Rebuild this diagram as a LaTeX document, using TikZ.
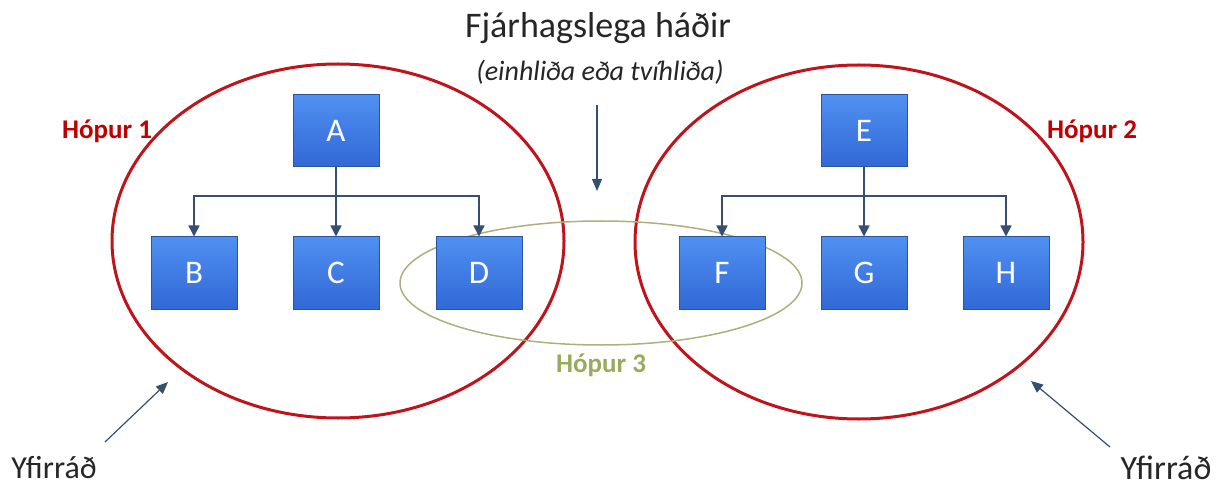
\documentclass[tikz,border=0pt]{standalone}
\usepackage{fontspec}
\setmainfont{Carlito}
\usetikzlibrary{arrows.meta,shapes.geometric}
\definecolor{boxtop}{HTML}{5090F2}
\definecolor{boxbot}{HTML}{3168D6}
\definecolor{boxline}{HTML}{2A5699}
\definecolor{conn}{HTML}{34506E}
\definecolor{grpred}{HTML}{C0141C}
\definecolor{grpgreen}{HTML}{ADB07E}
\definecolor{lblgreen}{HTML}{98AB5C}
\definecolor{lblred}{HTML}{C00000}
\definecolor{txt}{HTML}{262626}
\begin{document}
\begin{tikzpicture}[x=1pt,y=-1pt,
  box/.style={draw=boxline, line width=1pt, top color=boxtop, bottom color=boxbot,
    minimum width=86pt, minimum height=72pt, inner sep=0pt, text=white,
    font=\fontsize{33}{35}\selectfont},
  redgrp/.style={ellipse, draw=grpred, line width=3pt, inner sep=0pt},
  greengrp/.style={ellipse, draw=grpgreen, line width=1.5pt, inner sep=0pt},
  link/.style={draw=conn, line width=1.5pt, -{Triangle[width=11pt,length=11pt]}},
  plain/.style={draw=conn, line width=1.5pt},
  pointer/.style={draw=conn, line width=1.2pt, -{Triangle[width=10pt,length=12pt]}},
  grplabel/.style={font=\fontsize{27}{29}\selectfont\bfseries},
  bigtext/.style={text=txt, font=\fontsize{32}{34}\selectfont}
]
\useasboundingbox (0,0) rectangle (1225,486);

% group ellipses
\node[redgrp, minimum width=452pt, minimum height=354pt] (G1) at (338,241) {};
\node[redgrp, minimum width=448pt, minimum height=354pt] (G2) at (859,242) {};
\node[greengrp, minimum width=402pt, minimum height=124pt] (G3) at (601,283) {};

% boxes
\node[box] (A) at (336,131) {A};
\node[box] (B) at (194,273) {B};
\node[box] (C) at (336,273) {C};
\node[box] (D) at (479,273) {D};
\node[box] (E) at (864,131) {E};
\node[box] (F) at (722,273) {F};
\node[box] (G) at (864,273) {G};
\node[box] (H) at (1006,273) {H};

% connectors group 1
\coordinate (jA) at (336,196);
\draw[plain] (A.south) -- (jA);
\draw[link] (jA) -| (B.north);
\draw[link] (jA) -- (C.north);
\draw[link] (jA) -| (D.north);

% connectors group 2
\coordinate (jE) at (864,196);
\draw[plain] (E.south) -- (jE);
\draw[link] (jE) -| (F.north);
\draw[link] (jE) -- (G.north);
\draw[link] (jE) -| (H.north);

% labels
\node[grplabel, text=lblred] (L1) at (107,131) {Hópur 1};
\node[grplabel, text=lblred] (L2) at (1092,131) {Hópur 2};
\node[grplabel, text=lblgreen] (L3) at (601,365) {Hópur 3};

\node[bigtext, font=\fontsize{36}{38}\selectfont] (T) at (598,28) {Fjárhagslega háðir};
\node[text=txt, font=\fontsize{28}{30}\selectfont\itshape] (S) at (600,72) {(einhliða eða tvíhliða)};

\coordinate (mtop) at (597,105);
\coordinate (mtip) at (597,191);
\draw[pointer] (mtop) -- (mtip);

\node[bigtext] (Y1) at (54,468) {Yfirráð};
\node[bigtext, font=\fontsize{34}{36}\selectfont] (Y2) at (1166,468) {Yfirráð};
\coordinate (y1s) at (105,442);
\coordinate (y1t) at (168,382);
\coordinate (y2s) at (1110,447);
\coordinate (y2t) at (1031,381);
\draw[pointer] (y1s) -- (y1t);
\draw[pointer] (y2s) -- (y2t);
\end{tikzpicture}
\end{document}
